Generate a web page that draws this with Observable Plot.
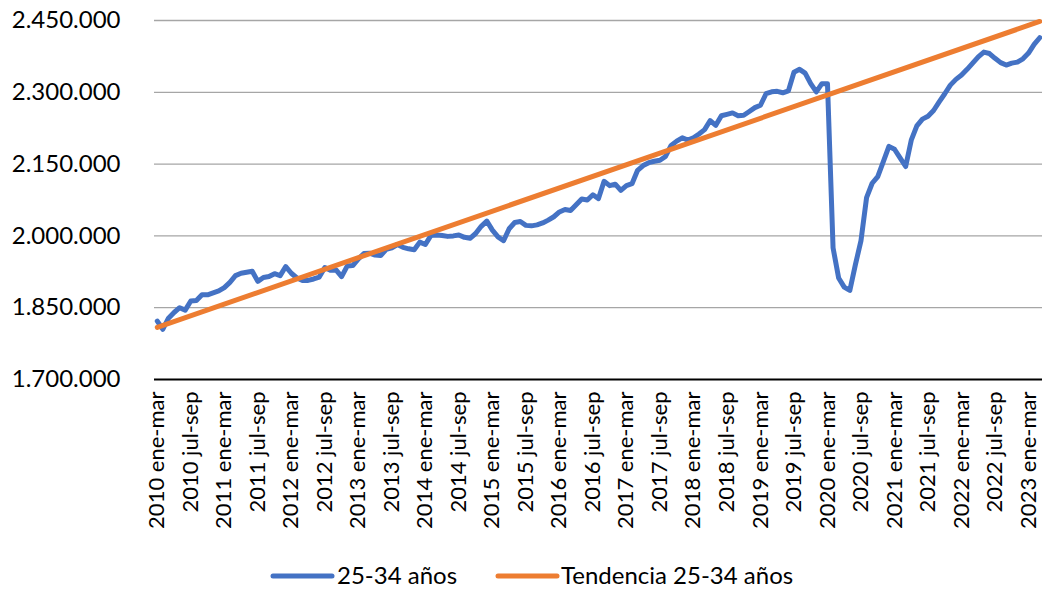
<!DOCTYPE html>
<html><head><meta charset="utf-8">
<script src="https://cdn.jsdelivr.net/npm/d3@7"></script>
<script src="https://cdn.jsdelivr.net/npm/@observablehq/plot@0.6"></script>
<style>
body{margin:0;background:#fff;font-family:Lato, "Noto Sans", sans-serif;}
#wrap{position:relative;width:1042px;}
#legend{position:relative;height:30px;font-size:24px;color:#000;}
#legend .it{position:absolute;top:0;height:30px;line-height:30px;white-space:nowrap;}
#legend svg{position:absolute;top:0;}
</style></head>
<body><div id="wrap"><div id="chart"></div><div id="legend"></div></div>
<script>
// Ocupados 25-34 años, trimestres móviles 2010 ene-mar ... 2023 mar-may
const values = [
1822000,1805000,1828000,1840000,1850000,1845000,1864000,1865000,1877000,1877000,
1881000,1885000,1892000,1903000,1917000,1922000,1924000,1926000,1905000,1913000,
1915000,1921000,1917000,1936000,1922000,1912000,1907000,1907000,1910000,1914000,
1934000,1928000,1929000,1915000,1937000,1938000,1952000,1963000,1964000,1960000,
1959000,1972000,1975000,1982000,1976000,1973000,1971000,1987000,1982000,2001000,
2002000,2001000,1999000,2000000,2002000,1997000,1995000,2005000,2020000,2031000,
2012000,1998000,1990000,2015000,2028000,2030000,2022000,2021000,2023000,2027000,
2033000,2040000,2050000,2055000,2053000,2065000,2077000,2075000,2086000,2078000,
2114000,2105000,2108000,2095000,2105000,2109000,2137000,2147000,2153000,2156000,
2158000,2166000,2189000,2198000,2205000,2200000,2205000,2213000,2222000,2241000,
2231000,2251000,2254000,2257000,2251000,2252000,2260000,2268000,2273000,2297000,
2301000,2302000,2299000,2303000,2342000,2348000,2340000,2318000,2301000,2318000,
2318000,1975000,1912000,1893000,1886000,1940000,1990000,2080000,2110000,2124000,
2155000,2187000,2181000,2163000,2145000,2200000,2230000,2244000,2250000,2262000,
2280000,2297000,2315000,2327000,2336000,2348000,2361000,2374000,2384000,2381000,
2371000,2362000,2357000,2361000,2363000,2370000,2382000,2400000,2414000
];
// Tendencia lineal: valores en el primer y último periodo
const trendIndex = [0, 158];
const trendValues = [1809000, 2448000];
const xTickIndex = [0,6,12,18,24,30,36,42,48,54,60,66,72,78,84,90,96,102,108,114,120,126,132,138,144,150,156];
const xTickLabels = [
"2010 ene-mar","2010 jul-sep","2011 ene-mar","2011 jul-sep","2012 ene-mar","2012 jul-sep",
"2013 ene-mar","2013 jul-sep","2014 ene-mar","2014 jul-sep","2015 ene-mar","2015 jul-sep",
"2016 ene-mar","2016 jul-sep","2017 ene-mar","2017 jul-sep","2018 ene-mar","2018 jul-sep",
"2019 ene-mar","2019 jul-sep","2020 ene-mar","2020 jul-sep","2021 ene-mar","2021 jul-sep",
"2022 ene-mar","2022 jul-sep","2023 ene-mar"
];
const yTicks = [1700000,1850000,2000000,2150000,2300000,2450000];
const seriesNames = ["25-34 años","Tendencia 25-34 años"];
const colors = ["#4472C4","#ED7D31"];

const loc = d3.formatLocale({decimal:",", thousands:".", grouping:[3], currency:["","€"]});
const fmt = loc.format(",d");
const trend = trendIndex.map((i,k)=>({i, v: trendValues[k]}));

const chart = Plot.plot({
  width:1042, height:560,
  marginLeft:154, marginRight:0, marginTop:20, marginBottom:181,
  style:{fontFamily:"Lato, 'Noto Sans', sans-serif", fontSize:"22px", color:"#000", background:"#fff", overflow:"visible"},
  x:{type:"linear", domain:[-0.5, 158.5]},
  y:{domain:[1700000,2450000]},
  marks:[
    Plot.gridY(yTicks.slice(1), {stroke:"#a6a6a6", strokeOpacity:1, strokeWidth:1.3}),
    Plot.ruleY([1700000], {stroke:"#000", strokeWidth:2}),
    Plot.axisY(yTicks, {tickSize:0, tickPadding:34, tickFormat: fmt, fontSize:24, label:null}),
    Plot.axisX(xTickIndex, {tickSize:0, tickPadding:12, tickRotate:-90, tickFormat: d => xTickLabels[xTickIndex.indexOf(d)], fontSize:22, label:null}),
    Plot.line(values, {x:(d,i)=>i, y:d=>d, stroke:colors[0], strokeWidth:5, strokeLinejoin:"round", strokeLinecap:"round"}),
    Plot.line(trend, {x:"i", y:"v", stroke:colors[1], strokeWidth:5})
  ]
});
document.getElementById("chart").appendChild(chart);

const legend = document.getElementById("legend");
const items = [{sx:270, tx:337},{sx:495, tx:561}];
items.forEach((p,k)=>{
  const s = document.createElementNS("http://www.w3.org/2000/svg","svg");
  s.setAttribute("width",65); s.setAttribute("height",30);
  s.style.left = p.sx+"px";
  s.innerHTML = `<line x1="3" x2="62" y1="16" y2="16" stroke="${colors[k]}" stroke-width="5" stroke-linecap="round"/>`;
  legend.appendChild(s);
  const t = document.createElement("div");
  t.className="it"; t.style.left=p.tx+"px"; t.textContent=seriesNames[k];
  legend.appendChild(t);
});
</script>
</body></html>
